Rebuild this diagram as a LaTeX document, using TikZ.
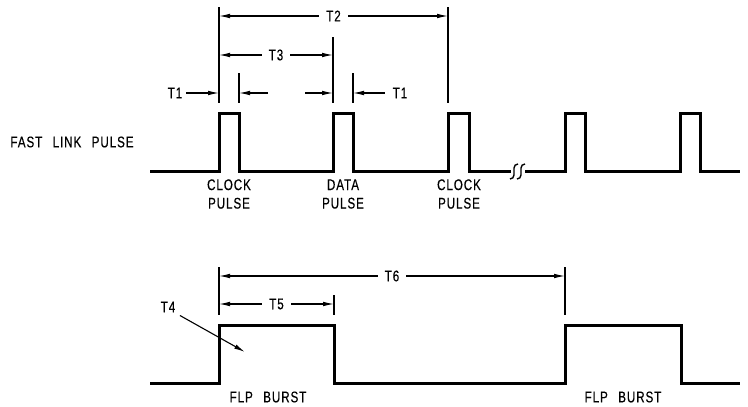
\documentclass[tikz,border=0pt]{standalone}
\usepackage{fontspec}
\setmainfont{Liberation Sans}[FakeStretch=0.75, LetterSpace=6, WordSpace=2.5, FakeBold=0.4]
\usetikzlibrary{arrows.meta, positioning}
\definecolor{inkDark}{HTML}{000000}

\begin{document}
\begin{tikzpicture}[x=1pt, y=-1pt,
    wave/.style={line width=3pt, draw=inkDark},
    ext/.style={line width=1.1pt, draw=inkDark},
    dim/.style={{Latex[length=11pt,width=4.6pt]}-{Latex[length=11pt,width=4.6pt]},
                line width=1.1pt, draw=inkDark},
    tip/.style={-{Latex[length=11pt,width=4.6pt]}, line width=1.1pt, draw=inkDark},
    lbl/.style={font=\fontsize{15.5}{18.5}\selectfont, text=inkDark,
                inner sep=1pt, align=center},
    cut/.style={fill=white, inner xsep=7pt, inner ysep=0pt},
    brk/.style={line width=1.4pt, draw=inkDark},
  ]
    \useasboundingbox (0,0) rectangle (748,407);

    % fast link pulse train
    \draw[wave] (150,171) -- (219,171) -- (219,113) -- (239,113) -- (239,171)
      -- (333,171) -- (333,113) -- (353,113) -- (353,171)
      -- (448,171) -- (448,113) -- (469,113) -- (469,171) -- (511,171);
    \draw[wave] (525,171) -- (565,171) -- (565,113) -- (585,113) -- (585,171)
      -- (680,171) -- (680,113) -- (700,113) -- (700,171) -- (740,171);
    \draw[brk] (518,164) to[out=180,in=90] (514,168) -- (514,175)
      to[out=-90,in=0] (510,179);
    \draw[brk] (525,164) to[out=180,in=90] (521,168) -- (521,175)
      to[out=-90,in=0] (517,179);

    \node[lbl] (fastlink) at (72,142) {FAST LINK PULSE};
    \node[lbl] (clock1) at (229,194) {CLOCK\\PULSE};
    \node[lbl] (data) at (343,194) {DATA\\PULSE};
    \node[lbl] (clock2) at (459,194) {CLOCK\\PULSE};

    % top dimensions
    \draw[ext] (219,7) -- (219,103);
    \draw[ext] (239,73) -- (239,103);
    \draw[ext] (333,37) -- (333,103);
    \draw[ext] (353,73) -- (353,103);
    \draw[ext] (448,7) -- (448,103);

    \coordinate (t2a) at (219,16);
    \coordinate (t2b) at (448,16);
    \draw[dim] (t2a) -- node[lbl, cut] {T2} (t2b);
    \coordinate (t3a) at (219,55);
    \coordinate (t3b) at (333,55);
    \draw[dim] (t3a) -- node[lbl, cut] {T3} (t3b);

    \node[lbl, inner xsep=4pt] (t1left) at (175,93) {T1};
    \coordinate (clk1rise) at (219,93);
    \draw[tip] (t1left) -- (clk1rise);
    \coordinate (gapa) at (268,93);
    \coordinate (clk1fall) at (239,93);
    \draw[tip] (gapa) -- (clk1fall);
    \coordinate (gapb) at (305,93);
    \coordinate (datarise) at (333,93);
    \draw[tip] (gapb) -- (datarise);
    \node[lbl, inner xsep=8pt] (t1right) at (400,93) {T1};
    \coordinate (datafall) at (353,93);
    \draw[tip] (t1right) -- (datafall);

    % flp bursts
    \draw[wave] (150,383) -- (219,383) -- (219,325) -- (334,325) -- (334,383)
      -- (565,383) -- (565,325) -- (681,325) -- (681,383) -- (740,383);

    \node[lbl] (burst1) at (268,397) {FLP BURST};
    \node[lbl] (burst2) at (623,397) {FLP BURST};

    \draw[ext] (219,267) -- (219,315);
    \draw[ext] (334,295) -- (334,315);
    \draw[ext] (565,267) -- (565,315);

    \coordinate (t6a) at (219,276);
    \coordinate (t6b) at (565,276);
    \draw[dim] (t6a) -- node[lbl, cut] {T6} (t6b);
    \coordinate (t5a) at (219,304);
    \coordinate (t5b) at (334,304);
    \draw[dim] (t5a) -- node[lbl, cut] {T5} (t5b);

    \node[lbl] (t4) at (168,307) {T4};
    \coordinate (t4end) at (245,352);
    \draw[tip, shorten <=4pt] (t4.south east) -- (t4end);
  \end{tikzpicture}
\end{document}
